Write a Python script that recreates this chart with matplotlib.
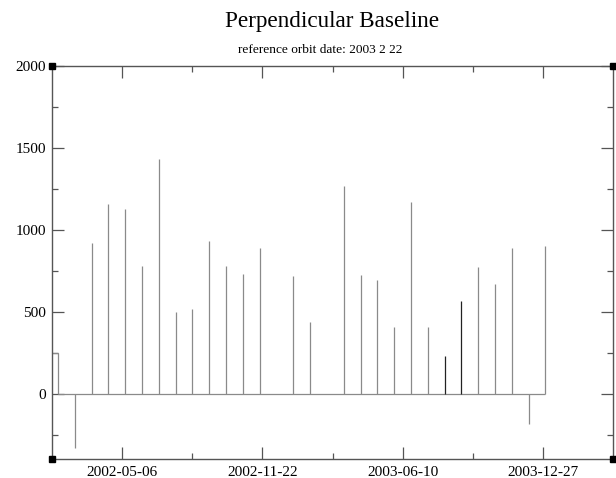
import matplotlib
matplotlib.use("Agg")
import matplotlib.pyplot as plt
import matplotlib.dates as mdates
import numpy as np
import datetime as dt

plt.rcParams['font.family'] = ['Liberation Serif', 'DejaVu Serif']

title = "Perpendicular Baseline"
subtitle = "reference orbit date: 2003 2 22"

dates = ["2002-02-03", "2002-02-27", "2002-03-23", "2002-04-16", "2002-05-10",
         "2002-06-03", "2002-06-27", "2002-07-21", "2002-08-14", "2002-09-07",
         "2002-10-01", "2002-10-25", "2002-11-18", "2003-01-05", "2003-01-29",
         "2003-03-18", "2003-04-11", "2003-05-05", "2003-05-29", "2003-06-22",
         "2003-07-16", "2003-08-09", "2003-09-02", "2003-09-26", "2003-10-20",
         "2003-11-13", "2003-12-07", "2003-12-31"]
baselines = [250, -330, 916, 1155, 1125, 778, 1433, 500, 515, 934,
             778, 730, 888, 715, 438, 1269, 726, 691, 409, 1167,
             409, 229, 563, 772, 671, 886, -182, 898]
dark_dates = ["2003-08-09", "2003-09-02"]

major_ticks = ["2002-05-06", "2002-11-22", "2003-06-10", "2003-12-27"]
minor_ticks = ["2002-08-14", "2003-03-02", "2003-09-18"]
x_range = ["2002-01-26", "2004-04-05"]
y_range = [-400, 2000]
y_major = [0, 500, 1000, 1500, 2000]
y_minor = [-250, 250, 750, 1250, 1750]

def d(s):
    return mdates.date2num(dt.datetime.strptime(s, "%Y-%m-%d"))

xd = np.array([d(s) for s in dates])
yv = np.array(baselines, dtype=float)
xmin, xmax = d(x_range[0]), d(x_range[1])

fig = plt.figure(figsize=(6.16, 4.78), dpi=100)
ax = fig.add_axes([52.3 / 616, 1 - 459.3 / 478, (612.7 - 52.3) / 616, (459.3 - 65.7) / 478])

gray = '#8a8a8a'
lw = 0.9
# leading segment at first value, then baseline
ax.plot([xmin, xd[0]], [yv[0], yv[0]], color=gray, lw=lw, solid_capstyle='butt')
ax.plot([xd[0], xd[-1]], [0, 0], color=gray, lw=lw, solid_capstyle='butt')
colors = ['#222222' if s in dark_dates else gray for s in dates]
ax.vlines(xd, 0, yv, colors=colors, lw=lw)

ax.set_xlim(xmin, xmax)
ax.set_ylim(*y_range)

ax.set_xticks([d(s) for s in major_ticks])
ax.set_xticklabels(major_ticks)
ax.set_xticks([d(s) for s in minor_ticks], minor=True)
ax.set_yticks(y_major)
ax.set_yticklabels([str(v) for v in y_major])
ax.set_yticks(y_minor, minor=True)

axis_col = '#555555'
for sp in ax.spines.values():
    sp.set_color(axis_col)
    sp.set_linewidth(1.0)
ax.tick_params(which='both', direction='in', top=True, right=True, color=axis_col,
               labelsize=11, labelcolor='black', width=0.9)
ax.tick_params(which='major', length=8.4, pad=4.5)
ax.tick_params(which='minor', length=4.3)

# corner squares
for cx in (xmin, xmax):
    for cy in y_range:
        ax.plot([cx], [cy], marker='s', ms=4.3, color='black', clip_on=False, zorder=5)

fig.text(0.5 * (225 + 440) / 616, 1 - 21 / 478, title, ha='center', va='center', fontsize=16.7)
fig.text(0.5 * (238 + 402) / 616, 1 - 50 / 478, subtitle, ha='center', va='center', fontsize=9.6)

fig.savefig("out.png", dpi=100)
